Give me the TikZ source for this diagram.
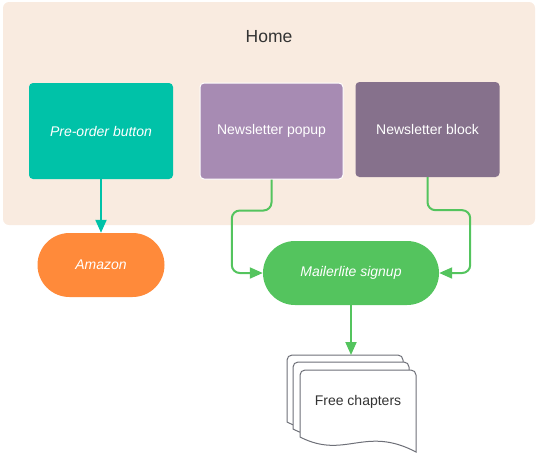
\documentclass[tikz,border=0pt]{standalone}
\usepackage{fontspec}
\setmainfont{Liberation Sans}
\usetikzlibrary{arrows.meta}
\definecolor{homebg}{HTML}{F9EBE0}
\definecolor{teal}{HTML}{00C2A8}
\definecolor{popupc}{HTML}{A78BB3}
\definecolor{blockc}{HTML}{86718C}
\definecolor{amazonc}{HTML}{FF8A3A}
\definecolor{mailc}{HTML}{54C45E}
\definecolor{ink}{HTML}{333333}
\definecolor{sheetc}{HTML}{6E7078}
\tikzset{
  box/.style={rectangle, rounded corners=4, inner sep=0, text=white, font=\fontsize{14}{16}\selectfont},
  pill/.style={rectangle, rounded corners=32, inner sep=0, minimum height=64, text=white, font=\fontsize{14}{16}\selectfont\itshape},
  flow/.style={line width=2, -{Triangle[length=13pt,width=11pt]}}
}
\newcommand{\sheet}[2]{%
  \draw[sheetc, fill=white, line width=1] (#1,#2+67) [rounded corners=5] -- (#1,#2) -- (#1+116,#2) [sharp corners] -- (#1+116,#2+82)
    .. controls (#1+65,#2+55) and (#1+45,#2+90) .. (#1,#2+67) -- cycle;}
\begin{document}
\begin{tikzpicture}[x=1pt,y=-1pt]
  \useasboundingbox (0,0) rectangle (537,456);
  \fill[homebg, rounded corners=6] (3,2) rectangle (535,225);
  \node[text=ink, font=\fontsize{17.5}{20}\selectfont] (home) at (269,37) {Home};
  \node[box, fill=teal, minimum width=144, minimum height=96, font=\fontsize{14}{16}\selectfont\itshape] (preorder) at (101,131) {Pre-order button};
  \node[box, fill=popupc, draw=white, line width=1, minimum width=143, minimum height=96] (popup) at (271.5,131) {Newsletter popup};
  \node[box, fill=blockc, minimum width=144, minimum height=95] (block) at (427.5,129.5) {Newsletter block};
  \node[pill, fill=amazonc, minimum width=127] (amazon) at (101,265) {Amazon};
  \node[pill, fill=mailc, minimum width=176] (mailer) at (351,273) {Mailerlite signup};
  \sheet{287}{355}
  \sheet{293}{362}
  \sheet{300}{370}
  \node[text=ink, font=\fontsize{14}{16}\selectfont] (chapters) at (358,402) {Free chapters};
  \coordinate (docs) at (351,355);
  \draw[flow, teal] (preorder.south) -- (amazon.north);
  \draw[flow, mailc, rounded corners=8] (popup.south) -- ++(0,31) -| ([xshift=-31pt]mailer.west) -- (mailer.west);
  \draw[flow, mailc, rounded corners=8] (block.south) -- ++(0,33) -| ([xshift=31pt]mailer.east) -- (mailer.east);
  \draw[flow, mailc] (mailer.south) -- (docs);
\end{tikzpicture}
\end{document}
